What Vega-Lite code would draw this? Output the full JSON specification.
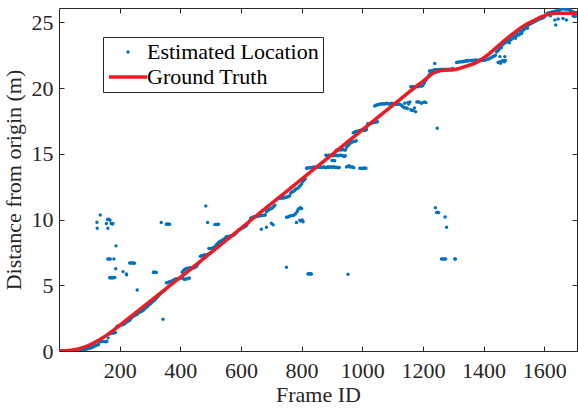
{
  "$schema": "https://vega.github.io/schema/vega-lite/v6.json",
  "width": 518,
  "height": 343,
  "autosize": {"type": "none"},
  "padding": {"left": 59, "top": 8, "right": 1, "bottom": 58},
  "background": "white",
  "config": {
    "view": {"stroke": "#262626", "strokeWidth": 1},
    "font": "Liberation Serif",
    "axis": {
      "grid": false,
      "domain": false,
      "tickSize": -5,
      "tickColor": "#262626"
    },
    "legend": {
      "orient": "none", "legendX": 44, "legendY": 29, "direction": "vertical",
      "padding": 4, "strokeColor": "#262626", "fillColor": "white",
      "labelFont": "Liberation Serif", "labelFontSize": 22, "labelColor": "black", "labelLimit": 0,
      "labelOffset": -2, "rowPadding": 3, "clipHeight": 22, "symbolOpacity": 1
    }
  },
  "datasets": {
    "est": [
      {"f":2,"d":0},{"f":6,"d":0},{"f":10,"d":0},{"f":14,"d":0},{"f":18,"d":0},{"f":22,"d":0},{"f":26,"d":0},{"f":30,"d":0},{"f":34,"d":0.01},{"f":38,"d":0.01},{"f":42,"d":0.02},{"f":46,"d":0.02},{"f":50,"d":0.03},{"f":54,"d":0.04},{"f":58,"d":0.05},{"f":62,"d":0.05},{"f":66,"d":0.06},{"f":70,"d":0.08},{"f":74,"d":0.1},{"f":78,"d":0.1},{"f":82,"d":0.12},{"f":86,"d":0.13},{"f":90,"d":0.15},{"f":94,"d":0.17},{"f":98,"d":0.2},{"f":102,"d":0.22},{"f":106,"d":0.25},{"f":110,"d":0.3},{"f":114,"d":0.33},{"f":118,"d":0.38},{"f":122,"d":0.42},{"f":126,"d":0.45},{"f":130,"d":0.5},{"f":134,"d":0.7},{"f":138,"d":0.7},{"f":142,"d":0.72},{"f":146,"d":0.72},{"f":150,"d":0.72},{"f":154,"d":0.7},{"f":158,"d":0.74},{"f":162,"d":1.0},{"f":166,"d":1.3},{"f":170,"d":1.35},{"f":174,"d":1.37},{"f":178,"d":1.37},{"f":182,"d":1.37},{"f":186,"d":1.4},{"f":190,"d":1.85},{"f":194,"d":1.9},{"f":198,"d":1.92},
      {"f":202,"d":1.95},{"f":206,"d":2.0},{"f":210,"d":2.0},{"f":214,"d":2.05},{"f":218,"d":2.1},{"f":222,"d":2.2},{"f":226,"d":2.25},{"f":230,"d":2.3},{"f":234,"d":2.35},{"f":238,"d":2.5},{"f":242,"d":2.6},{"f":246,"d":2.65},{"f":250,"d":2.7},{"f":254,"d":2.75},{"f":258,"d":2.8},{"f":262,"d":2.9},{"f":266,"d":2.95},{"f":270,"d":3.0},{"f":274,"d":3.05},{"f":278,"d":3.1},{"f":282,"d":3.2},{"f":286,"d":3.3},{"f":290,"d":3.35},{"f":294,"d":3.45},{"f":298,"d":3.55},{"f":302,"d":3.6},{"f":306,"d":3.7},{"f":310,"d":3.8},{"f":314,"d":3.85},{"f":318,"d":3.95},{"f":322,"d":4.05},{"f":326,"d":4.15},{"f":330,"d":4.25},{"f":334,"d":4.35},{"f":338,"d":4.45},{"f":342,"d":4.5},{"f":346,"d":4.6},{"f":350,"d":4.65},{"f":354,"d":5.2},{"f":358,"d":5.2},{"f":362,"d":5.25},{"f":366,"d":5.25},{"f":370,"d":5.3},{"f":374,"d":5.35},{"f":378,"d":5.4},{"f":382,"d":5.45},{"f":386,"d":5.5},{"f":390,"d":5.45},{"f":394,"d":5.5},{"f":398,"d":5.55},
      {"f":402,"d":5.55},{"f":406,"d":6.0},{"f":410,"d":6.1},{"f":414,"d":6.2},{"f":418,"d":6.25},{"f":422,"d":6.3},{"f":426,"d":6.3},{"f":430,"d":6.3},{"f":434,"d":6.35},{"f":438,"d":6.3},{"f":442,"d":6.3},{"f":446,"d":6.35},{"f":450,"d":6.4},{"f":410,"d":5.5},{"f":415,"d":5.45},{"f":420,"d":5.5},{"f":425,"d":5.5},{"f":430,"d":5.55},{"f":454,"d":6.45},{"f":458,"d":6.6},{"f":462,"d":6.75},{"f":466,"d":7.2},{"f":470,"d":7.25},{"f":474,"d":7.25},{"f":478,"d":7.3},{"f":482,"d":7.3},{"f":486,"d":7.3},{"f":490,"d":7.35},{"f":494,"d":7.4},{"f":498,"d":7.45},{"f":494,"d":7.8},{"f":500,"d":7.8},{"f":504,"d":7.8},{"f":508,"d":7.85},{"f":512,"d":7.9},{"f":516,"d":8.0},{"f":520,"d":8.1},{"f":524,"d":8.2},{"f":528,"d":8.3},{"f":532,"d":8.35},{"f":536,"d":8.4},{"f":540,"d":8.45},{"f":544,"d":8.5},{"f":548,"d":8.6},{"f":552,"d":8.7},{"f":556,"d":8.7},{"f":560,"d":8.72},{"f":564,"d":8.75},{"f":568,"d":8.75},{"f":572,"d":8.78},{"f":576,"d":8.8},{"f":580,"d":8.9},{"f":584,"d":9.0},{"f":588,"d":9.1},{"f":592,"d":9.2},{"f":596,"d":9.25},{"f":600,"d":9.3},{"f":604,"d":9.35},{"f":608,"d":9.4},{"f":612,"d":9.45},{"f":616,"d":9.5},{"f":620,"d":9.6},{"f":624,"d":9.75},{"f":628,"d":9.9},{"f":632,"d":10.1},{"f":636,"d":10.15},{"f":640,"d":10.2},{"f":644,"d":10.2},{"f":648,"d":10.22},{"f":652,"d":10.25},{"f":656,"d":10.25},{"f":660,"d":10.28},{"f":664,"d":10.3},{"f":668,"d":10.3},{"f":672,"d":10.32},{"f":676,"d":10.35},{"f":680,"d":10.35},{"f":684,"d":10.6},{"f":688,"d":10.7},{"f":692,"d":10.75},{"f":696,"d":10.8},{"f":700,"d":10.85},{"f":704,"d":10.9},{"f":708,"d":11.0},
      {"f":712,"d":11.1},{"f":716,"d":11.5},{"f":720,"d":11.6},{"f":724,"d":11.62},{"f":728,"d":11.62},{"f":732,"d":11.65},{"f":736,"d":11.65},{"f":740,"d":11.65},{"f":744,"d":11.68},{"f":748,"d":11.7},{"f":752,"d":11.72},{"f":756,"d":11.75},{"f":760,"d":11.8},{"f":764,"d":12.0},{"f":768,"d":12.1},{"f":772,"d":12.15},{"f":776,"d":12.2},{"f":780,"d":12.3},{"f":784,"d":12.35},{"f":788,"d":12.4},{"f":792,"d":12.5},{"f":796,"d":12.6},{"f":800,"d":12.7},{"f":804,"d":12.9},{"f":808,"d":13.0},{"f":812,"d":13.1},{"f":816,"d":13.9},{"f":820,"d":13.92},{"f":824,"d":13.95},{"f":828,"d":13.95},{"f":832,"d":13.95},{"f":836,"d":13.97},{"f":840,"d":14.0},{"f":844,"d":13.98},{"f":848,"d":14.0},{"f":852,"d":14.0},{"f":856,"d":13.98},{"f":860,"d":14.0},{"f":864,"d":13.97},{"f":868,"d":13.98},{"f":872,"d":14.0},{"f":876,"d":13.98},{"f":880,"d":13.95},{"f":884,"d":14.0},{"f":888,"d":13.98},{"f":892,"d":14.0},{"f":896,"d":14.0},{"f":900,"d":13.98},{"f":904,"d":14.0},{"f":908,"d":14.0},{"f":912,"d":13.97},{"f":916,"d":13.98},{"f":920,"d":13.95},{"f":924,"d":13.97},{"f":948,"d":14.0},{"f":952,"d":14.05},{"f":956,"d":14.1},{"f":960,"d":14.0},{"f":964,"d":14.02},{"f":968,"d":14.0},{"f":972,"d":13.95},{"f":992,"d":13.9},{"f":996,"d":13.9},{"f":1000,"d":13.88},{"f":1004,"d":13.9},{"f":1008,"d":13.92},{"f":1012,"d":13.9},
      {"f":880,"d":14.9},{"f":884,"d":14.85},{"f":888,"d":14.9},{"f":892,"d":14.9},{"f":896,"d":14.88},{"f":900,"d":14.9},{"f":904,"d":14.85},{"f":908,"d":14.9},{"f":912,"d":14.88},{"f":916,"d":14.9},{"f":920,"d":14.85},{"f":924,"d":14.9},{"f":928,"d":14.88},{"f":932,"d":14.9},{"f":936,"d":14.85},{"f":940,"d":14.8},{"f":944,"d":14.85},{"f":900,"d":14.5},{"f":905,"d":14.5},{"f":909,"d":14.48},{"f":915,"d":15.3},{"f":920,"d":15.3},{"f":925,"d":15.32},{"f":930,"d":15.3},{"f":935,"d":15.35},{"f":940,"d":15.3},{"f":945,"d":15.3},{"f":948,"d":15.5},{"f":952,"d":15.6},{"f":956,"d":15.7},{"f":960,"d":15.8},{"f":964,"d":15.9},{"f":968,"d":15.9},{"f":972,"d":15.95},{"f":976,"d":15.95},{"f":980,"d":16.0},{"f":970,"d":16.6},{"f":974,"d":16.65},{"f":978,"d":16.7},{"f":982,"d":16.7},{"f":986,"d":16.75},{"f":990,"d":16.75},{"f":994,"d":16.8},{"f":998,"d":16.8},{"f":1002,"d":16.8},{"f":1006,"d":16.82},{"f":1010,"d":16.8},{"f":1014,"d":16.85},{"f":1018,"d":17.3},{"f":1022,"d":17.3},{"f":1026,"d":17.32},{"f":1030,"d":17.35},{"f":1034,"d":17.35},{"f":1038,"d":17.4},{"f":1042,"d":17.4},{"f":1046,"d":17.42},{"f":1050,"d":17.45},
      {"f":1041,"d":18.65},{"f":1045,"d":18.7},{"f":1049,"d":18.72},{"f":1053,"d":18.75},{"f":1057,"d":18.78},{"f":1061,"d":18.8},{"f":1065,"d":18.8},{"f":1069,"d":18.82},{"f":1073,"d":18.8},{"f":1077,"d":18.82},{"f":1081,"d":18.85},{"f":1085,"d":18.8},{"f":1089,"d":18.82},{"f":1093,"d":18.8},{"f":1097,"d":18.85},{"f":1101,"d":18.8},{"f":1105,"d":18.82},{"f":1109,"d":18.8},{"f":1113,"d":18.78},{"f":1117,"d":18.8},{"f":1121,"d":18.8},{"f":1125,"d":18.75},{"f":1129,"d":18.7},{"f":1133,"d":18.6},{"f":1137,"d":18.55},{"f":1141,"d":18.5},{"f":1145,"d":18.5},{"f":1149,"d":18.45},{"f":1153,"d":18.8},{"f":1157,"d":18.95},{"f":1160,"d":18.35},{"f":1164,"d":18.3},{"f":1168,"d":18.3},{"f":1172,"d":18.5},{"f":1176,"d":18.2},{"f":1180,"d":18.95},{"f":1185,"d":18.97},{"f":1190,"d":18.9},{"f":1195,"d":18.85},{"f":1200,"d":18.9},{"f":1205,"d":18.95},{"f":1210,"d":18.9},{"f":1150,"d":18.9},{"f":1140,"d":18.85},{"f":1160,"d":20.1},{"f":1165,"d":20.1},{"f":1170,"d":20.12},{"f":1175,"d":20.1},{"f":1180,"d":20.15},{"f":1185,"d":20.1},{"f":1190,"d":20.2},{"f":1195,"d":20.15},{"f":1200,"d":20.2},{"f":1205,"d":20.4},{"f":1210,"d":20.6},{"f":1215,"d":20.8},{"f":1220,"d":21.0},{"f":1225,"d":21.2},
      {"f":1222,"d":21.3},{"f":1226,"d":21.32},{"f":1230,"d":21.35},{"f":1234,"d":21.35},{"f":1238,"d":21.4},{"f":1242,"d":21.38},{"f":1246,"d":21.4},{"f":1250,"d":21.4},{"f":1254,"d":21.42},{"f":1258,"d":21.4},{"f":1262,"d":21.45},{"f":1266,"d":21.4},{"f":1270,"d":21.42},{"f":1274,"d":21.45},{"f":1278,"d":21.4},{"f":1282,"d":21.45},{"f":1286,"d":21.42},{"f":1290,"d":21.45},{"f":1294,"d":21.4},{"f":1298,"d":21.5},{"f":1240,"d":21.2},{"f":1250,"d":21.25},{"f":1239,"d":21.87},
      {"f":1311,"d":21.95},{"f":1315,"d":21.97},{"f":1319,"d":22.0},{"f":1323,"d":22.0},{"f":1327,"d":22.02},{"f":1331,"d":22.0},{"f":1335,"d":22.05},{"f":1339,"d":22.05},{"f":1343,"d":22.1},{"f":1347,"d":22.05},{"f":1351,"d":22.1},{"f":1355,"d":22.1},{"f":1359,"d":22.1},{"f":1363,"d":22.12},{"f":1367,"d":22.1},{"f":1371,"d":22.12},{"f":1375,"d":22.15},{"f":1379,"d":22.1},{"f":1383,"d":22.12},{"f":1387,"d":22.15},{"f":1391,"d":22.1},{"f":1395,"d":22.15},{"f":1399,"d":22.12},{"f":1403,"d":22.15},{"f":1407,"d":22.15},{"f":1411,"d":22.2},{"f":1415,"d":22.2},{"f":1419,"d":22.25},{"f":1423,"d":22.3},{"f":1427,"d":22.35},{"f":1431,"d":22.4},{"f":1435,"d":22.45},{"f":1439,"d":22.5},{"f":1443,"d":22.75},{"f":1447,"d":22.85},{"f":1451,"d":22.95},{"f":1455,"d":23.05},{"f":1459,"d":23.1},
      {"f":1448,"d":21.95},{"f":1452,"d":22.0},{"f":1456,"d":21.9},{"f":1460,"d":22.05},{"f":1464,"d":22.1},{"f":1468,"d":22.0},{"f":1472,"d":22.1},{"f":1454,"d":22.4},{"f":1470,"d":22.4},
      {"f":1463,"d":23.3},{"f":1467,"d":23.4},{"f":1471,"d":23.45},{"f":1475,"d":23.5},{"f":1479,"d":23.55},{"f":1483,"d":23.6},{"f":1487,"d":23.65},{"f":1491,"d":23.7},{"f":1495,"d":23.78},{"f":1499,"d":23.85},{"f":1503,"d":23.9},{"f":1507,"d":23.95},{"f":1511,"d":24.0},{"f":1515,"d":24.05},{"f":1519,"d":24.1},{"f":1523,"d":24.2},{"f":1527,"d":24.3},{"f":1531,"d":24.4},{"f":1535,"d":24.5},{"f":1539,"d":24.6},{"f":1543,"d":24.7},{"f":1547,"d":24.8},{"f":1551,"d":24.85},{"f":1555,"d":24.9},{"f":1559,"d":24.95},{"f":1563,"d":25.0},{"f":1567,"d":25.05},{"f":1571,"d":25.1},{"f":1575,"d":25.15},{"f":1579,"d":25.2},{"f":1583,"d":25.25},{"f":1587,"d":25.3},{"f":1591,"d":25.3},{"f":1595,"d":25.35},{"f":1599,"d":25.4},{"f":1603,"d":25.5},
      {"f":1470,"d":23.6},{"f":1480,"d":23.75},{"f":1490,"d":23.9},{"f":1500,"d":24.05},{"f":1510,"d":24.2},{"f":1520,"d":24.35},{"f":1530,"d":24.55},{"f":1540,"d":24.7},{"f":1550,"d":24.95},{"f":1485,"d":23.45},{"f":1505,"d":23.8},{"f":1525,"d":24.15},{"f":1545,"d":24.55},
      {"f":1607,"d":25.65},{"f":1611,"d":25.7},{"f":1615,"d":25.72},{"f":1619,"d":25.75},{"f":1623,"d":25.78},{"f":1627,"d":25.8},{"f":1631,"d":25.8},{"f":1635,"d":25.85},{"f":1639,"d":25.85},{"f":1643,"d":25.9},{"f":1647,"d":25.9},{"f":1651,"d":25.95},{"f":1655,"d":26.0},{"f":1659,"d":26.05},{"f":1663,"d":26.05},{"f":1667,"d":26.05},{"f":1671,"d":26.0},{"f":1675,"d":26.05},{"f":1679,"d":26.0},{"f":1683,"d":25.95},{"f":1687,"d":25.9},{"f":1691,"d":25.85},{"f":1695,"d":25.8},{"f":1699,"d":25.75},{"f":1703,"d":25.75},{"f":1707,"d":25.7},
      {"f":1635,"d":25.19},{"f":1646,"d":25.27},{"f":1638,"d":24.8},{"f":1673,"d":25.19},{"f":1662,"d":25.3},{"f":1695,"d":25.5},{"f":1700,"d":25.45},{"f":1705,"d":25.5},{"f":1620,"d":25.5},
      {"f":136,"d":10.35},{"f":125,"d":9.8},{"f":126,"d":9.34},{"f":156,"d":9.7},{"f":160,"d":10.0},{"f":164,"d":10.02},{"f":168,"d":9.95},{"f":172,"d":9.7},{"f":176,"d":9.66},{"f":178,"d":9.7},{"f":161,"d":9.34},{"f":188,"d":8.0},{"f":161,"d":7.0},{"f":165,"d":7.0},{"f":169,"d":7.0},{"f":181,"d":7.0},{"f":187,"d":6.26},{"f":167,"d":5.58},{"f":170,"d":5.58},{"f":173,"d":5.58},{"f":176,"d":5.58},{"f":180,"d":5.58},{"f":184,"d":5.6},{"f":211,"d":6.04},{"f":222,"d":5.86},{"f":223,"d":5.8},{"f":233,"d":6.7},{"f":237,"d":6.7},{"f":241,"d":6.7},{"f":245,"d":6.7},{"f":249,"d":6.68},{"f":258,"d":4.64},{"f":311,"d":5.99},{"f":314,"d":5.99},{"f":318,"d":5.99},{"f":321,"d":5.97},{"f":337,"d":9.77},{"f":354,"d":9.64},{"f":358,"d":9.66},{"f":362,"d":9.64},{"f":365,"d":9.64},{"f":343,"d":2.41},
      {"f":484,"d":11.03},{"f":490,"d":9.77},{"f":514,"d":9.62},{"f":518,"d":9.63},{"f":522,"d":9.62},{"f":526,"d":9.64},
      {"f":667,"d":9.26},{"f":684,"d":9.41},{"f":700,"d":9.72},{"f":706,"d":9.6},{"f":750,"d":10.17},{"f":755,"d":10.2},{"f":760,"d":10.25},{"f":765,"d":10.3},{"f":770,"d":10.3},{"f":775,"d":10.35},{"f":780,"d":10.45},{"f":785,"d":10.6},{"f":788,"d":10.75},{"f":792,"d":10.85},{"f":796,"d":10.9},{"f":800,"d":10.85},{"f":783,"d":9.77},{"f":794,"d":9.95},{"f":798,"d":9.9},{"f":802,"d":9.97},{"f":805,"d":9.84},{"f":750,"d":6.37},{"f":821,"d":5.86},{"f":824,"d":5.9},{"f":827,"d":5.86},{"f":830,"d":5.88},{"f":832,"d":5.86},{"f":953,"d":5.84},
      {"f":1241,"d":10.9},{"f":1245,"d":10.53},{"f":1248,"d":10.55},{"f":1252,"d":10.53},{"f":1273,"d":10.2},{"f":1278,"d":9.41},{"f":1261,"d":7.0},{"f":1265,"d":7.0},{"f":1270,"d":7.0},{"f":1275,"d":7.0},{"f":1305,"d":7.0},{"f":1307,"d":7.0},{"f":1247,"d":16.95}
    ],
    "gt": [
      {"f":0,"d":0},{"f":20,"d":0.01},{"f":40,"d":0.05},{"f":60,"d":0.13},{"f":80,"d":0.27},{"f":100,"d":0.45},{"f":120,"d":0.68},{"f":140,"d":0.95},{"f":160,"d":1.25},{"f":180,"d":1.58},{"f":200,"d":1.95},{"f":250,"d":2.86},{"f":300,"d":3.78},{"f":350,"d":4.69},{"f":400,"d":5.6},{"f":500,"d":7.47},{"f":600,"d":9.34},{"f":700,"d":11.21},{"f":800,"d":13.08},{"f":900,"d":14.95},{"f":1000,"d":16.82},{"f":1100,"d":18.69},{"f":1150,"d":19.62},{"f":1180,"d":20.18},{"f":1200,"d":20.52},{"f":1215,"d":20.8},{"f":1228,"d":21.05},{"f":1240,"d":21.22},{"f":1255,"d":21.32},{"f":1275,"d":21.37},{"f":1300,"d":21.4},{"f":1320,"d":21.5},{"f":1340,"d":21.65},{"f":1360,"d":21.8},{"f":1380,"d":22.0},{"f":1400,"d":22.3},{"f":1420,"d":22.65},{"f":1440,"d":23.05},{"f":1460,"d":23.45},{"f":1480,"d":23.85},{"f":1500,"d":24.2},{"f":1520,"d":24.55},{"f":1540,"d":24.85},{"f":1560,"d":25.08},{"f":1575,"d":25.25},{"f":1590,"d":25.42},{"f":1608,"d":25.58},{"f":1625,"d":25.67},{"f":1640,"d":25.7},{"f":1708,"d":25.7}
    ]
  },
  "resolve": {"axis": {"x": "independent", "y": "independent"}},
  "layer": [
    {
      "data": {"name": "est"},
      "mark": {"type": "point", "filled": true, "opacity": 1, "clip": true},
      "encoding": {
        "x": {"field": "f", "type": "quantitative", "scale": {"domain": [0, 1708], "nice": false, "zero": false},
              "axis": {"values": [200,400,600,800,1000,1200,1400,1600], "format": "d", "title": "Frame ID",
                       "labelFont": "Liberation Serif", "labelFontSize": 22, "labelColor": "#262626",
                       "titleFont": "Liberation Serif", "titleFontSize": 22, "titleFontWeight": "normal", "titleColor": "#262626",
                       "labelPadding": 14, "titlePadding": 3}},
        "y": {"field": "d", "type": "quantitative", "scale": {"domain": [0, 26.1], "nice": false},
              "axis": {"values": [0,5,10,15,20,25], "title": "Distance from origin (m)",
                       "labelFont": "Liberation Serif", "labelFontSize": 22, "labelColor": "#262626",
                       "titleFont": "Liberation Serif", "titleFontSize": 22, "titleFontWeight": "normal", "titleColor": "#262626",
                       "labelPadding": 11, "titlePadding": 6}},
        "color": {"datum": "Estimated Location", "type": "nominal",
          "scale": {"domain": ["Estimated Location", "Ground Truth"], "range": ["#0072BD", "#ED1C24"]},
          "legend": {"title": null}},
        "stroke": {"datum": "Estimated Location", "type": "nominal",
          "scale": {"domain": ["Estimated Location", "Ground Truth"], "range": ["#0072BD", "#ED1C24"]},
          "legend": {"title": null}},
        "shape": {"datum": "Estimated Location", "type": "nominal",
          "scale": {"domain": ["Estimated Location", "Ground Truth"], "range": ["circle", "stroke"]},
          "legend": {"title": null}},
        "size": {"datum": "Estimated Location", "type": "nominal",
          "scale": {"type": "point", "padding": 0, "domain": ["Estimated Location", "Ground Truth"], "range": [12, 1444]},
          "legend": {"title": null}},
        "strokeWidth": {"datum": "Estimated Location", "type": "nominal",
          "scale": {"type": "point", "padding": 0, "domain": ["Estimated Location", "Ground Truth"], "range": [0, 3.5]},
          "legend": {"title": null}}
      }
    },
    {
      "data": {"name": "gt"},
      "mark": {"type": "line", "color": "#ED1C24", "strokeWidth": 3.5, "interpolate": "monotone", "clip": true},
      "encoding": {
        "x": {"field": "f", "type": "quantitative", "axis": {"orient": "top", "labels": false, "title": null, "values": [200,400,600,800,1000,1200,1400,1600]}},
        "y": {"field": "d", "type": "quantitative", "axis": {"orient": "right", "labels": false, "title": null, "values": [0,5,10,15,20,25]}}
      }
    }
  ]
}
